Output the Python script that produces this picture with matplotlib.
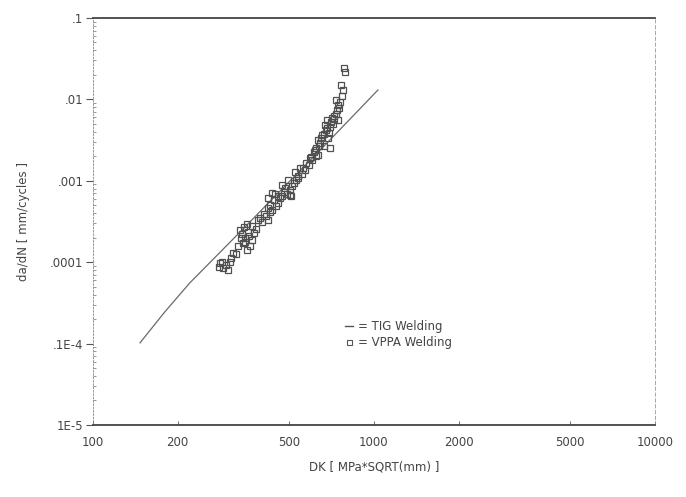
import matplotlib
matplotlib.use("Agg")
import matplotlib.pyplot as plt
from matplotlib.lines import Line2D
from matplotlib.ticker import FixedLocator, FixedFormatter, LogLocator, NullFormatter

# TIG welding curve
tig_dk = [147, 180, 221, 334, 681, 1033]
tig_rate = [1.02e-5, 2.44e-5, 5.55e-5, 2.35e-4, 2.91e-3, 1.30e-2]

# VPPA welding points
vppa_dk = [283, 290, 297, 307, 281, 302, 315, 323, 342, 353,
           362, 368, 348, 334, 345, 356, 368, 380, 353, 339,
           348, 393, 406, 420, 400, 427, 427, 441, 455, 420,
           490, 507, 434, 420, 444, 471, 503, 471, 494, 519,
           537, 482, 524, 545, 568, 587, 537, 592, 612, 632,
           602, 622, 642, 664, 697, 653, 675, 697, 715, 686,
           709, 732, 745, 751, 745, 732, 769, 776, 763, 788,
           782, 669, 692, 720, 680, 632,
           288, 310, 328, 336, 359, 374, 387, 413, 434, 448,
           463, 478, 511, 528, 554, 573, 597, 617, 637, 648,
           664, 680, 703, 721, 738, 757, 622, 559, 503, 455]
vppa_rate = [9.8e-5, 8.5e-5, 9.25e-5, 1.0e-4, 8.7e-5, 8.0e-5, 1.30e-4, 1.26e-4, 1.72e-4, 1.41e-4,
             1.58e-4, 1.88e-4, 1.98e-4, 2.49e-4, 2.71e-4, 2.35e-4, 2.79e-4, 2.56e-4, 2.95e-4, 2.22e-4,
             1.77e-4, 3.49e-4, 3.91e-4, 3.30e-4, 3.12e-4, 4.14e-4, 5.05e-4, 5.81e-4, 5.34e-4, 4.63e-4,
             6.89e-4, 6.50e-4, 7.08e-4, 6.15e-4, 6.89e-4, 6.50e-4, 6.70e-4, 8.88e-4, 1.02e-3, 9.40e-4,
             1.08e-3, 8.16e-4, 1.28e-3, 1.44e-3, 1.36e-3, 1.56e-3, 1.15e-3, 1.91e-3, 2.26e-3, 2.08e-3,
             1.80e-3, 2.53e-3, 2.91e-3, 2.68e-3, 2.53e-3, 3.66e-3, 4.21e-3, 4.58e-3, 4.99e-3, 3.36e-3,
             5.90e-3, 6.62e-3, 5.58e-3, 7.83e-3, 8.53e-3, 9.84e-3, 1.10e-2, 1.30e-2, 1.50e-2, 2.17e-2,
             2.43e-2, 4.8e-3, 3.9e-3, 6.2e-3, 5.6e-3, 3.2e-3,
             1.005e-4, 1.13e-4, 1.58e-4, 1.98e-4, 2.10e-4, 2.28e-4, 3.30e-4, 3.70e-4, 4.38e-4, 4.90e-4,
             6.15e-4, 7.28e-4, 8.63e-4, 1.02e-3, 1.21e-3, 1.66e-3, 1.96e-3, 2.39e-3, 2.68e-3, 3.36e-3,
             3.76e-3, 4.45e-3, 5.28e-3, 5.74e-3, 7.41e-3, 9.29e-3, 2.02e-3, 1.44e-3, 7.71e-4, 6.50e-4]

x_ticks = [100, 200, 500, 1000, 2000, 5000, 10000]
x_labels = ["100", "200", "500", "1000", "2000", "5000", "10000"]
y_ticks = [1e-6, 1e-5, 1e-4, 1e-3, 1e-2, 1e-1]
y_labels = ["1E-5", ".1E-4", ".0001", ".001", ".01", ".1"]

plt.rcParams['font.family'] = ['DejaVu Sans']
fig = plt.figure(figsize=(6.86, 4.97), dpi=100)
ax = fig.add_axes([0.1356, 0.145, 0.819, 0.819])

ax.plot(tig_dk, tig_rate, color="#6a6a6a", lw=0.9)
ax.plot(vppa_dk, vppa_rate, ls="none", marker="s", ms=4.0, mfc="none",
        mec="#505050", mew=0.9)

ax.set_xscale("log")
ax.set_yscale("log")
ax.set_xlim(100, 10000)
ax.set_ylim(1e-6, 1e-1)

ax.xaxis.set_major_locator(FixedLocator(x_ticks))
ax.xaxis.set_major_formatter(FixedFormatter(x_labels))
ax.xaxis.set_minor_locator(FixedLocator([]))
ax.yaxis.set_major_locator(FixedLocator(y_ticks))
ax.yaxis.set_major_formatter(FixedFormatter(y_labels))
ax.yaxis.set_minor_locator(LogLocator(base=10, subs=range(2, 10)))
ax.yaxis.set_minor_formatter(NullFormatter())

ax.tick_params(axis="x", which="major", direction="in", length=3, width=0.6,
               colors="#555555", labelcolor="#444444", labelsize=8.5, pad=8)
ax.tick_params(axis="y", which="major", direction="out", length=5, width=0.8,
               colors="#555555", labelcolor="#444444", labelsize=8.5, pad=2)
ax.tick_params(axis="y", which="minor", direction="in", length=2.5, width=0.6,
               colors="#888888")

ax.spines["top"].set_linewidth(1.3)
ax.spines["top"].set_color("#444444")
ax.spines["bottom"].set_linewidth(1.3)
ax.spines["bottom"].set_color("#444444")
ax.spines["left"].set_linewidth(0.6)
ax.spines["left"].set_color("#888888")
ax.spines["left"].set_linestyle((0, (2, 2)))
ax.spines["right"].set_linewidth(0.6)
ax.spines["right"].set_color("#999999")
ax.spines["right"].set_linestyle((0, (4, 3)))

ax.set_xlabel("DK [ MPa*SQRT(mm) ]", fontsize=8.5, color="#444444", labelpad=8)
ax.set_ylabel("da/dN [ mm/cycles ]", fontsize=8.5, color="#444444", labelpad=14)

handles = [Line2D([], [], color="#555555", lw=1.0),
           Line2D([], [], ls="none", marker="s", ms=3.6, mfc="none", mec="#555555", mew=0.8)]
ax.legend(handles, ["= TIG Welding", "= VPPA Welding"], loc="lower left",
          bbox_to_anchor=(0.43, 0.16), frameon=False, fontsize=8.5,
          handlelength=0.7, handletextpad=0.4, labelspacing=0.3,
          labelcolor="#444444")

fig.savefig("out.png", dpi=100)
